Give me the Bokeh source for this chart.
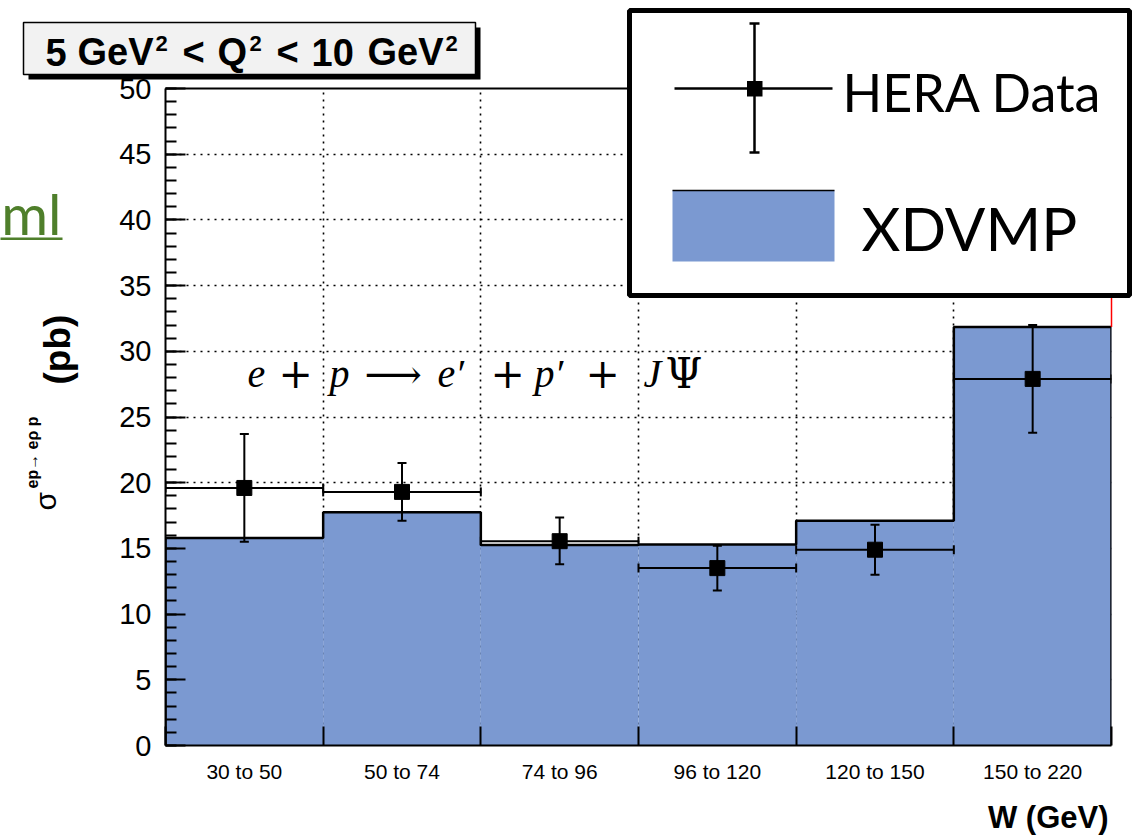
import math
from bokeh.plotting import figure
from bokeh.models import Range1d, FixedTicker, SingleIntervalTicker
from bokeh.core.properties import value
from bokeh.embed import file_html
from bokeh.resources import INLINE

# ---------------- data ----------------
bins = ["30 to 50", "50 to 74", "74 to 96", "96 to 120", "120 to 150", "150 to 220"]
xdvmp = [15.8, 17.75, 15.25, 15.3, 17.1, 31.85]
hera = [19.6, 19.3, 15.55, 13.5, 14.9, 27.9]
hera_up = [23.7, 21.5, 17.35, 15.2, 16.8, 32.0]
hera_down = [15.5, 17.1, 13.8, 11.8, 13.0, 23.8]
y_ticks_step = 5

# ---------------- geometry ----------------
W, H = 1132, 839
FL, FR, FT, FB = 165, 1111, 88, 745
NB = len(bins)
YMAX = 50
BLUE = "#7b99d1"
K = 0.32  # baseline correction (fraction of font size)

def X(px):
    return (px - FL) / (FR - FL) * NB

def Y(py):
    return (FB - py) / (FB - FT) * YMAX

lo = list(range(NB))
hi = [i + 1 for i in lo]
cen = [i + 0.5 for i in lo]

p = figure(width=W, height=H, x_range=Range1d(0, NB), y_range=Range1d(0, YMAX),
           output_backend="svg", toolbar_location=None, title=None,
           min_border_left=FL, min_border_right=W - FR,
           min_border_top=FT, min_border_bottom=H - FB)
p.outline_line_color = None
p.background_fill_color = "white"
p.border_fill_color = "white"

# x axis
p.xaxis.ticker = FixedTicker(ticks=cen, minor_ticks=list(range(NB + 1)))
p.xaxis.major_label_overrides = {c: b for c, b in zip(cen, bins)}
p.xaxis.major_tick_in = 0
p.xaxis.major_tick_out = 0
p.xaxis.minor_tick_in = 19
p.xaxis.minor_tick_out = 0
p.xaxis.minor_tick_line_width = 2
p.xaxis.minor_tick_line_color = "black"
p.xaxis.axis_line_width = 2
p.xaxis.axis_line_color = "black"
p.xaxis.major_label_standoff = 14
p.xaxis.major_label_text_font = "Liberation Sans"
p.xaxis.major_label_text_font_size = "21px"
p.xaxis.major_label_text_color = "black"

# y axis
p.yaxis.ticker = SingleIntervalTicker(interval=y_ticks_step, num_minor_ticks=5)
p.yaxis.major_tick_in = 20
p.yaxis.major_tick_out = 0
p.yaxis.minor_tick_in = 11
p.yaxis.minor_tick_out = 0
p.yaxis.major_tick_line_width = 2
p.yaxis.minor_tick_line_width = 2
p.yaxis.major_tick_line_color = "black"
p.yaxis.minor_tick_line_color = "black"
p.yaxis.axis_line_width = 2
p.yaxis.axis_line_color = "black"
p.yaxis.major_label_standoff = 14
p.yaxis.major_label_text_font = "Liberation Sans"
p.yaxis.major_label_text_font_size = "29px"
p.yaxis.major_label_text_color = "black"

# grids
p.xgrid.ticker = FixedTicker(ticks=list(range(1, NB)))
for g in (p.xgrid, p.ygrid):
    g.grid_line_color = "black"
    g.grid_line_width = 1.6
    g.grid_line_dash = "2 5"

# histogram (XDVMP)
p.quad(left=lo, right=hi, bottom=0, top=xdvmp, fill_color=BLUE, line_color=None)
sx, sy = [0], [0]
for i, v in enumerate(xdvmp):
    sx += [lo[i], hi[i]]
    sy += [v, v]
sx.append(NB)
sy.append(0)
p.line(sx, sy, line_color="black", line_width=2.5)

# HERA data
p.segment(x0=lo, x1=hi, y0=hera, y1=hera, line_color="black", line_width=2)
p.segment(x0=cen, x1=cen, y0=hera_down, y1=hera_up, line_color="black", line_width=2)
p.scatter(x=cen, y=hera_up, marker="dash", size=9, line_color="black", line_width=2)
p.scatter(x=cen, y=hera_down, marker="dash", size=9, line_color="black", line_width=2)
p.scatter(x=lo, y=hera, marker="dash", angle=math.pi / 2, size=9, line_color="black", line_width=2)
p.scatter(x=hi, y=hera, marker="dash", angle=math.pi / 2, size=9, line_color="black", line_width=2)
p.scatter(x=cen, y=hera, marker="square", size=15, fill_color="black", line_color="black")

# ---------- decorations drawn at overlay level (not clipped to the frame) ----------
def box(x0, x1, y0, y1, fill="black", line=None, lw=1):
    p.quad(left=[X(x0)], right=[X(x1)], top=[Y(y0)], bottom=[Y(y1)],
           fill_color=fill, line_color=line, line_width=lw, level="overlay")

def seg(x0, y0, x1, y1, color="black", lw=2):
    p.segment(x0=[X(x0)], y0=[Y(y0)], x1=[X(x1)], y1=[Y(y1)],
              line_color=color, line_width=lw, level="overlay")

def txt(px, py, s, font="Liberation Sans", size=20, style="normal", align="left",
        color="black", angle=0.0):
    if angle:
        px -= K * size
    else:
        py -= K * size
    p.text(x=[X(px)], y=[Y(py)], text=[s], text_font=value(font),
           text_font_size=value(f"{size}px"), text_font_style=style,
           text_align=align, text_baseline="alphabetic", text_color=color,
           angle=angle, level="overlay")

# frame top and red right edge
p.segment(x0=[0], x1=[NB], y0=[YMAX], y1=[YMAX], line_color="black", line_width=2, level="overlay")
p.segment(x0=[NB], x1=[NB], y0=[xdvmp[-1]], y1=[YMAX], line_color="red", line_width=1.5, level="overlay")

# title box with shadow: "5 GeV^2 < Q^2 < 10 GeV^2"
box(28, 480, 27, 79, fill="black")
box(23, 475, 22, 74, fill="#f2f2f2", line="black", lw=1.5)
TS, SS = 38, 22
for lx, s in [(45, "5"), (77, "GeV"), (182, "<"), (217, "Q"), (276, "<"),
              (311, "10"), (367, "GeV")]:
    txt(lx, 64, s, size=TS, style="bold")
for lx in (155, 249, 445):
    txt(lx, 50, "2", size=SS, style="bold")

# y axis label (rotated)
txt(55, 510, "\u03c3", size=30, angle=math.pi / 2)
txt(37, 488, "ep\u2192 e\u03c1 p", size=16, style="bold", angle=math.pi / 2)
txt(69, 384, "(pb)", size=37, style="bold", angle=math.pi / 2)

# x axis title
txt(1108, 827, "W (GeV)", size=31, style="bold", align="right")

# formula, token by token
FS = 40
BL = 386
txt(247, BL, "e", "Liberation Serif", FS, "italic")
txt(278, BL, "+", "DejaVu Serif", 41)
txt(329, BL, "p", "Liberation Serif", FS, "italic")
txt(364, BL, "\u27f6", "DejaVu Serif", FS)
txt(437, BL, "e\u2032", "Liberation Serif", FS, "italic")
txt(490, BL, "+", "DejaVu Serif", 41)
txt(534, BL, "p\u2032", "Liberation Serif", FS, "italic")
txt(585, BL, "+", "DejaVu Serif", 41)
txt(643, BL, "J", "Liberation Serif", FS, "italic")
txt(665, BL, "\u03a8", "DejaVu Serif", 42)

# stray slide text
txt(61, 231, "ml", "Lato", 57, align="right", color="#4f7f2b")
box(0, 62, 237, 239.5, fill="#4f7f2b")

# legend
box(629, 1129, 10, 295, fill="white", line="black", lw=5)
seg(674, 88, 832, 88, lw=2.5)
seg(754, 23, 754, 152, lw=2.5)
seg(749, 23, 759, 23, lw=2.5)
seg(749, 152, 759, 152, lw=2.5)
box(746.5, 762, 80.5, 96)
box(672, 834, 190, 261, fill=BLUE)
seg(672, 190, 834, 190, lw=1.5)
txt(842, 108, "HERA Data", "Lato", 52)
txt(861, 247, "XDVMP", "Lato", 60)

open("out.html", "w").write(file_html(p, INLINE))
